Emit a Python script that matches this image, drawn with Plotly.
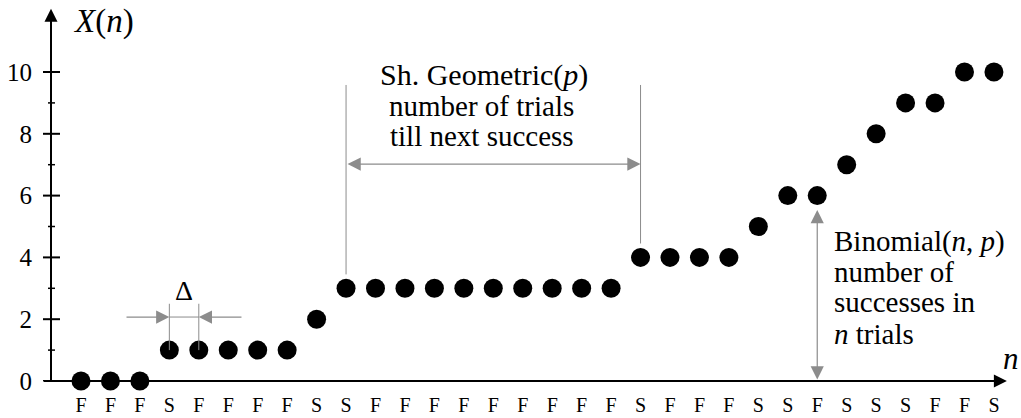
import plotly.graph_objects as go

# ---- data ----
trial_index = list(range(32))
outcomes = ["F", "F", "F", "S", "F", "F", "F", "F", "S", "S", "F", "F", "F", "F", "F", "F",
            "F", "F", "F", "S", "F", "F", "F", "S", "S", "F", "S", "S", "S", "F", "F", "S"]
counts = [0, 0, 0, 1, 1, 1, 1, 1, 2, 3, 3, 3, 3, 3, 3, 3,
          3, 3, 3, 4, 4, 4, 4, 5, 6, 6, 7, 8, 9, 9, 10, 10]
y_major = [0, 2, 4, 6, 8, 10]
y_minor = [1, 3, 5, 7, 9]

FONT = "Liberation Serif"
GRAY = "#8c8c8c"

X_LEFT = -1.0187   # where the y axis sits (left of plot area)
X_RIGHT = 31.919
Y_TOP = 12.33

fig = go.Figure()
fig.add_trace(go.Scatter(
    x=trial_index, y=counts, mode="markers",
    marker=dict(size=19, color="black"), cliponaxis=False, showlegend=False,
    hoverinfo="skip"))

shapes = []
# y axis tick marks (crossing the axis)
for v in y_major:
    shapes.append(dict(type="line", xref="paper", yref="y", x0=-8/970, x1=9/970, y0=v, y1=v,
                       line=dict(color="black", width=2)))
for v in y_minor:
    shapes.append(dict(type="line", xref="paper", yref="y", x0=-3/970, x1=4/970, y0=v, y1=v,
                       line=dict(color="black", width=1.5)))

# Delta guide lines
for xi in (3, 4):
    shapes.append(dict(type="line", xref="x", yref="y", x0=xi, x1=xi, y0=counts[xi], y1=2.5,
                       line=dict(color=GRAY, width=1)))
shapes.append(dict(type="line", xref="x", yref="y", x0=3, x1=4, y0=2.07, y1=2.07,
                   line=dict(color=GRAY, width=1)))
# geometric guide lines
for xi in (9, 19):
    shapes.append(dict(type="line", xref="x", yref="y", x0=xi, x1=xi, y0=counts[xi] + 0.45, y1=9.58,
                       line=dict(color=GRAY, width=1)))

annotations = []
# y axis with arrow
annotations.append(dict(x=X_LEFT, y=12.05, ax=X_LEFT, ay=-0.02, xref="x", yref="y", axref="x", ayref="y",
                        text="", showarrow=True, arrowhead=2, arrowsize=1.3, arrowwidth=2,
                        arrowcolor="black", standoff=0, startstandoff=0))
# x axis with arrow
annotations.append(dict(x=31.44, y=0, ax=-1.324, ay=0, xref="x", yref="y", axref="x", ayref="y",
                        text="", showarrow=True, arrowhead=2, arrowsize=1.3, arrowwidth=2,
                        arrowcolor="black", standoff=0, startstandoff=0))
# Delta arrows
annotations.append(dict(x=3, y=2.07, ax=1.494, ay=2.07, xref="x", yref="y", axref="x", ayref="y",
                        text="", showarrow=True, arrowhead=2, arrowsize=2.2, arrowwidth=1.2,
                        arrowcolor=GRAY, standoff=0))
annotations.append(dict(x=4, y=2.07, ax=5.5, ay=2.07, xref="x", yref="y", axref="x", ayref="y",
                        text="", showarrow=True, arrowhead=2, arrowsize=2.2, arrowwidth=1.2,
                        arrowcolor=GRAY, standoff=0))
# geometric double arrow
annotations.append(dict(x=19, y=7.02, ax=9, ay=7.02, xref="x", yref="y", axref="x", ayref="y",
                        text="", showarrow=True, arrowhead=2, arrowside="end+start",
                        arrowsize=2.2, arrowwidth=1.2, arrowcolor=GRAY, standoff=0, startstandoff=0))
# binomial double arrow
annotations.append(dict(x=25, y=5.53, ax=25, ay=0, xref="x", yref="y", axref="x", ayref="y",
                        text="", showarrow=True, arrowhead=2, arrowside="end+start",
                        arrowsize=2.2, arrowwidth=1.2, arrowcolor=GRAY, standoff=0, startstandoff=0))

def txt(x, y, s, size=29, xanchor="center"):
    annotations.append(dict(x=x, y=y, xref="x", yref="y", text=s, showarrow=False,
                            xanchor=xanchor, yanchor="middle", borderpad=0,
                            font=dict(family=FONT, size=size, color="black")))

txt(0.75, 11.62, "<i>X</i>(<i>n</i>)", size=33)
txt(31.58, 0.74, "<i>n</i>", size=31)
txt(3.5, 2.94, "Δ", size=28)
txt(13.68, 9.9, "Sh. Geometric(<i>p</i>)", size=30)
txt(13.6, 8.9, "number of trials")
txt(13.6, 7.93, "till next success")
txt(25.53, 4.53, "Binomial(<i>n</i>, <i>p</i>)", xanchor="left")
txt(25.53, 3.53, "number of", xanchor="left")
txt(25.53, 2.56, "successes in", xanchor="left")
txt(25.53, 1.52, "<i>n</i> trials", xanchor="left")

fig.update_layout(
    width=1021, height=418,
    margin=dict(l=51, r=0, t=0, b=37, autoexpand=False),
    paper_bgcolor="white", plot_bgcolor="white",
    shapes=shapes, annotations=annotations,
    xaxis=dict(range=[X_LEFT, X_RIGHT], showgrid=False, zeroline=False, showline=False,
               automargin=False,
               tickmode="array", tickvals=trial_index, ticktext=outcomes, ticks="",
               ticklabelstandoff=10, tickfont=dict(family=FONT, size=20, color="black")),
    yaxis=dict(range=[0, Y_TOP], showgrid=False, zeroline=False, showline=False,
               automargin=False,
               tickmode="array", tickvals=y_major, ticks="", ticklabelstandoff=18,
               tickfont=dict(family=FONT, size=25, color="black")),
    showlegend=False,
)

fig.write_html("out.html", config={"displayModeBar": False},
               post_script="document.body.style.margin='0';document.body.style.padding='0';")
